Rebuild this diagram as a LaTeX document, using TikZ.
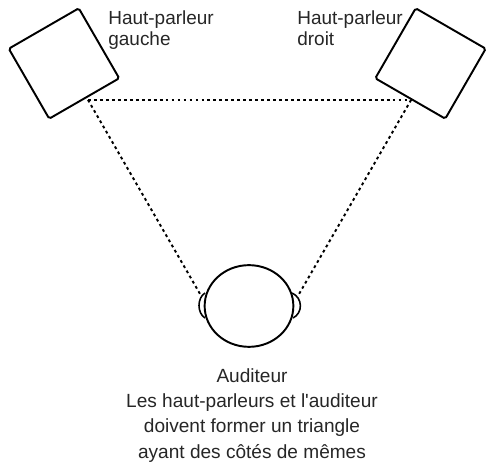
\documentclass[tikz,border=0pt]{standalone}
\usepackage{fontspec}
\setmainfont{Liberation Sans}
\usetikzlibrary{shapes.geometric}
\tikzset{
	speaker/.style={draw, line width=1.1pt, rounded corners=1pt, minimum size=46pt, inner sep=0pt},
	label/.style={text=black!85, inner sep=0pt},
	path to ear/.style={line width=1.1pt, dash pattern=on 1.6pt off 1.8pt},
}
\begin{document}
\begin{tikzpicture}[scale=0.02]
	\useasboundingbox (0,0) rectangle (492,464);
	\node[speaker, rotate=30] (leftspk) at (64,400.5) {};
	\node[speaker, rotate=-30] (rightspk) at (430.5,400.5) {};
	\node[draw, ellipse, line width=1.1pt, minimum width=50.5pt, minimum height=46.5pt, inner sep=0pt] (head) at (249,158) {};
	\draw[line width=0.9pt] (205,171) .. controls (197,166) and (197,151) .. (205,146);
	\draw[line width=0.9pt] (292,171) .. controls (303,166) and (303,151) .. (293,146);
	\coordinate (leftcorner) at (88,364);
	\coordinate (rightcorner) at (411,364);
	\coordinate (leftear) at (200,170);
	\coordinate (rightear) at (299,170);
	\draw[path to ear] (leftcorner) -- (rightcorner);
	\draw[path to ear] (leftcorner) -- (leftear);
	\draw[path to ear] (rightcorner) -- (rightear);
	\node[label, font=\fontsize{10.8}{12.2}\selectfont, anchor=north west, align=left] (leftlabel) at (108,454) {Haut-parleur\\gauche};
	\node[label, font=\fontsize{10.8}{12.2}\selectfont, anchor=north west, align=left] (rightlabel) at (297,454) {Haut-parleur\\droit};
	\node[label, font=\fontsize{10.85}{14.4}\selectfont, anchor=north, align=center] (listener) at (252,96) {Auditeur\\Les haut-parleurs et l\textquotesingle auditeur\\doivent former un triangle\\ayant des côtés de mêmes};
\end{tikzpicture}
\end{document}
